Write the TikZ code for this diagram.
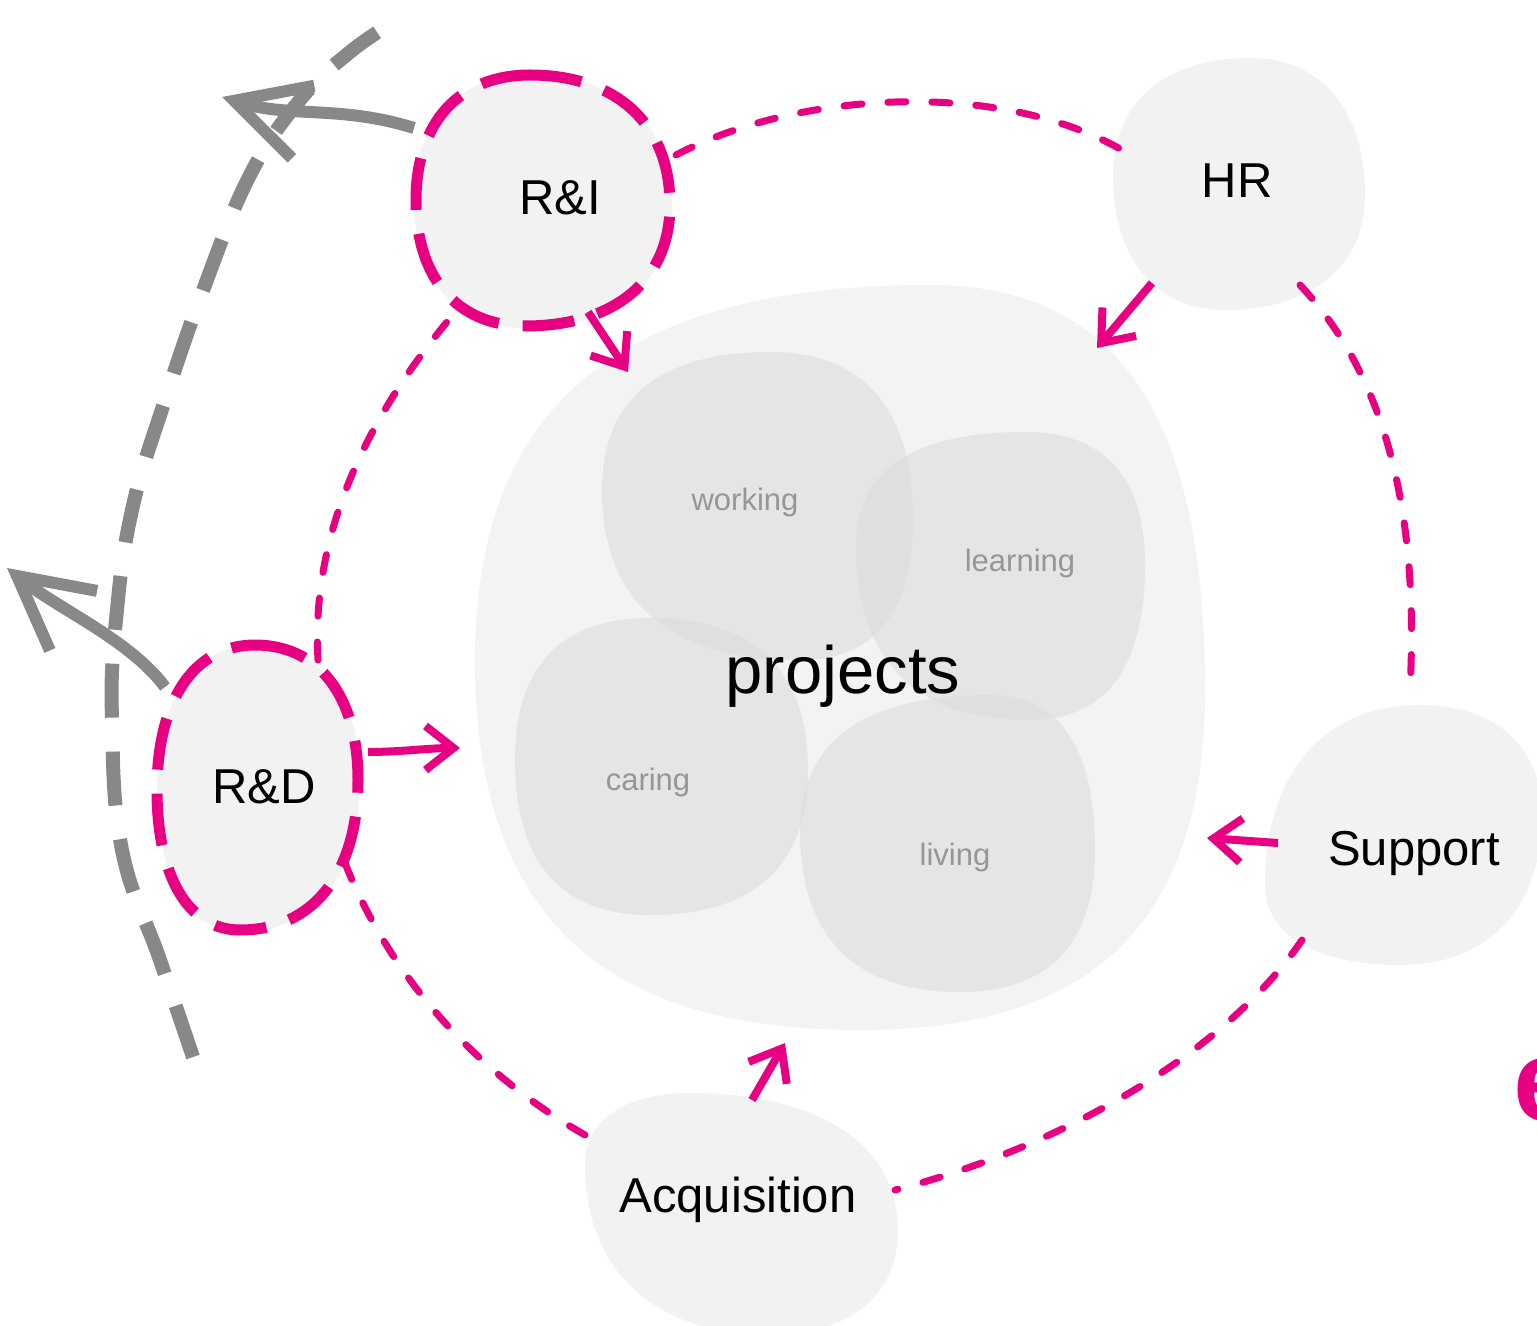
\documentclass[tikz,border=0pt]{standalone}
\usepackage{fontspec}
\setmainfont{Liberation Sans}
\usetikzlibrary{arrows.meta,calc}
\definecolor{mypink}{RGB}{232,0,130}
\definecolor{arrowgray}{RGB}{136,136,136}
\definecolor{blobgray}{RGB}{242,242,242}
\definecolor{bigblob}{RGB}{243,243,243}
\definecolor{innergray}{RGB}{220,220,220}
\definecolor{subgray}{RGB}{150,150,150}
% rounded blob through top, right, bottom, left extreme points
\newcommand{\blobshape}[6][0.62]{%
  \path #3 coordinate (bT) #4 coordinate (bR) #5 coordinate (bB) #6 coordinate (bL);
  \path[#2] (bT) .. controls ($(bT)!#1!(bT-|bR)$) and ($(bR)!#1!(bT-|bR)$) .. (bR)
    .. controls ($(bR)!#1!(bB-|bR)$) and ($(bB)!#1!(bB-|bR)$) .. (bB)
    .. controls ($(bB)!#1!(bB-|bL)$) and ($(bL)!#1!(bB-|bL)$) .. (bL)
    .. controls ($(bL)!#1!(bT-|bL)$) and ($(bT)!#1!(bT-|bL)$) .. (bT) -- cycle;}
\begin{document}
\begin{tikzpicture}[x=0.5pt,y=-0.5pt,
  blob/.style={fill=blobgray, draw=none},
  inblob/.style={fill=innergray, fill opacity=0.6, draw=none},
  lbl/.style={font=\fontsize{24.5pt}{28pt}\selectfont, text=black, inner sep=0pt, anchor=base},
  biglbl/.style={font=\fontsize{33.5pt}{38pt}\selectfont, text=black, inner sep=0pt, anchor=base},
  sublbl/.style={font=\fontsize{15.5pt}{18pt}\selectfont, text=subgray, inner sep=0pt, anchor=base},
  pinkarc/.style={draw=mypink, line width=3.5pt, dash pattern=on 9pt off 13pt, line cap=round},
  pinkoutline/.style={draw=mypink, line width=5.5pt, dash pattern=on 26pt off 12pt},
  pinkarrow/.style={draw=mypink, line width=4pt, -{Straight Barb[length=14pt,width=22pt]}},
  grayarrow/.style={draw=arrowgray, line width=6pt, -{Straight Barb[length=36pt,width=38pt]}},
  graydash/.style={draw=arrowgray, line width=7pt, dash pattern=on 27pt off 17pt}]
\useasboundingbox (0,0) rectangle (1537,1326);
\fill[white] (0,0) rectangle (1537,1326);

% big projects blob
\blobshape[0.68]{fill=bigblob}{(930,285)}{(1205,690)}{(860,1030)}{(475,660)}
% inner blobs
\blobshape[0.66]{inblob}{(770,352)}{(913,520)}{(800,660)}{(602,490)}
\blobshape[0.66]{inblob}{(1025,432)}{(1145,565)}{(1030,720)}{(856,545)}
\blobshape[0.66]{inblob}{(650,618)}{(808,770)}{(650,915)}{(515,760)}
\blobshape[0.66]{inblob}{(990,695)}{(1095,850)}{(960,992)}{(800,830)}

% outer node blobs
\blobshape{blob}{(530,75)}{(672,205)}{(525,328)}{(414,200)}
\blobshape{blob}{(1250,58)}{(1365,195)}{(1225,310)}{(1113,175)}
\blobshape{blob}{(255,645)}{(360,780)}{(240,932)}{(157,790)}
\blobshape{blob}{(1420,705)}{(1542,815)}{(1400,965)}{(1265,885)}
\blobshape{blob}{(690,1093)}{(898,1230)}{(770,1335)}{(585,1165)}

% pink dashed outlines around R&I and R&D
\blobshape{pinkoutline}{(530,75)}{(670,205)}{(525,326)}{(416,200)}
\blobshape{pinkoutline}{(255,645)}{(358,780)}{(240,930)}{(157,790)}

% text nodes
\node[lbl] (ri) at (560,215) {R\&I};
\node[lbl] (hr) at (1237,198) {HR};
\node[lbl] (rd) at (264,803) {R\&D};
\node[lbl] (sup) at (1414,865) {Support};
\node[lbl] (acq) at (738,1212) {Acquisition};
\node[biglbl] (proj) at (843,693) {projects};
\node[sublbl] (work) at (745,510) {working};
\node[sublbl] (learn) at (1020,571) {learning};
\node[sublbl] (care) at (648,790) {caring};
\node[sublbl] (live) at (955,865) {living};
\node[font=\fontsize{58pt}{60pt}\selectfont\bfseries, text=mypink, inner sep=0pt, anchor=base west] (e) at (1513,1120) {e};

% anchor coordinates
\coordinate (ri-e) at (676,155);
\coordinate (ri-s) at (457,310);
\coordinate (ri-w) at (414,128);
\coordinate (ri-b) at (588,312);
\coordinate (hr-w) at (1122,150);
\coordinate (hr-s) at (1300,285);
\coordinate (hr-b) at (1152,283);
\coordinate (sup-n) at (1410,690);
\coordinate (sup-s) at (1302,940);
\coordinate (sup-w) at (1278,843);
\coordinate (acq-e) at (895,1190);
\coordinate (acq-w) at (585,1135);
\coordinate (acq-n) at (752,1100);
\coordinate (rd-s) at (343,858);
\coordinate (rd-n) at (318,660);
\coordinate (rd-e) at (368,752);
\coordinate (rd-w) at (165,687);
\coordinate (p-ri) at (628,372);
\coordinate (p-hr) at (1097,348);
\coordinate (p-rd) at (460,748);
\coordinate (p-sup) at (1207,838);
\coordinate (p-acq) at (785,1043);
\coordinate (out1) at (222,97);
\coordinate (out2) at (7,568);
\coordinate (g-bot) at (193,1057);
\coordinate (g-top) at (400,18);

% pink dashed cycle arcs
\draw[pinkarc] (ri-e) .. controls (800,90) and (1000,80) .. (hr-w);
\draw[pinkarc] (hr-s) .. controls (1380,370) and (1420,500) .. (sup-n);
\draw[pinkarc] (sup-s) .. controls (1220,1060) and (1050,1150) .. (acq-e);
\draw[pinkarc] (acq-w) .. controls (480,1075) and (390,980) .. (rd-s);
\draw[pinkarc] (rd-n) .. controls (310,520) and (380,400) .. (ri-s);

% pink arrows into projects
\draw[pinkarrow] (ri-b) -- (p-ri);
\draw[pinkarrow] (hr-b) -- (p-hr);
\draw[pinkarrow] (rd-e) .. controls (400,752) and (430,748) .. (p-rd);
\draw[pinkarrow] (sup-w) -- (p-sup);
\draw[pinkarrow] (acq-n) -- (p-acq);

% gray arrows outward
\draw[grayarrow] (ri-w) .. controls (340,105) and (290,118) .. (out1);
\draw[grayarrow] (rd-w) .. controls (130,640) and (60,610) .. (out2);

% gray dashed long curve
\draw[graydash] plot[smooth, tension=0.7] coordinates {(g-bot) (160,960) (122,850) (112,720) (116,620) (132,510) (165,400) (205,285) (250,175) (300,100) (350,52) (g-top)};
\end{tikzpicture}
\end{document}
